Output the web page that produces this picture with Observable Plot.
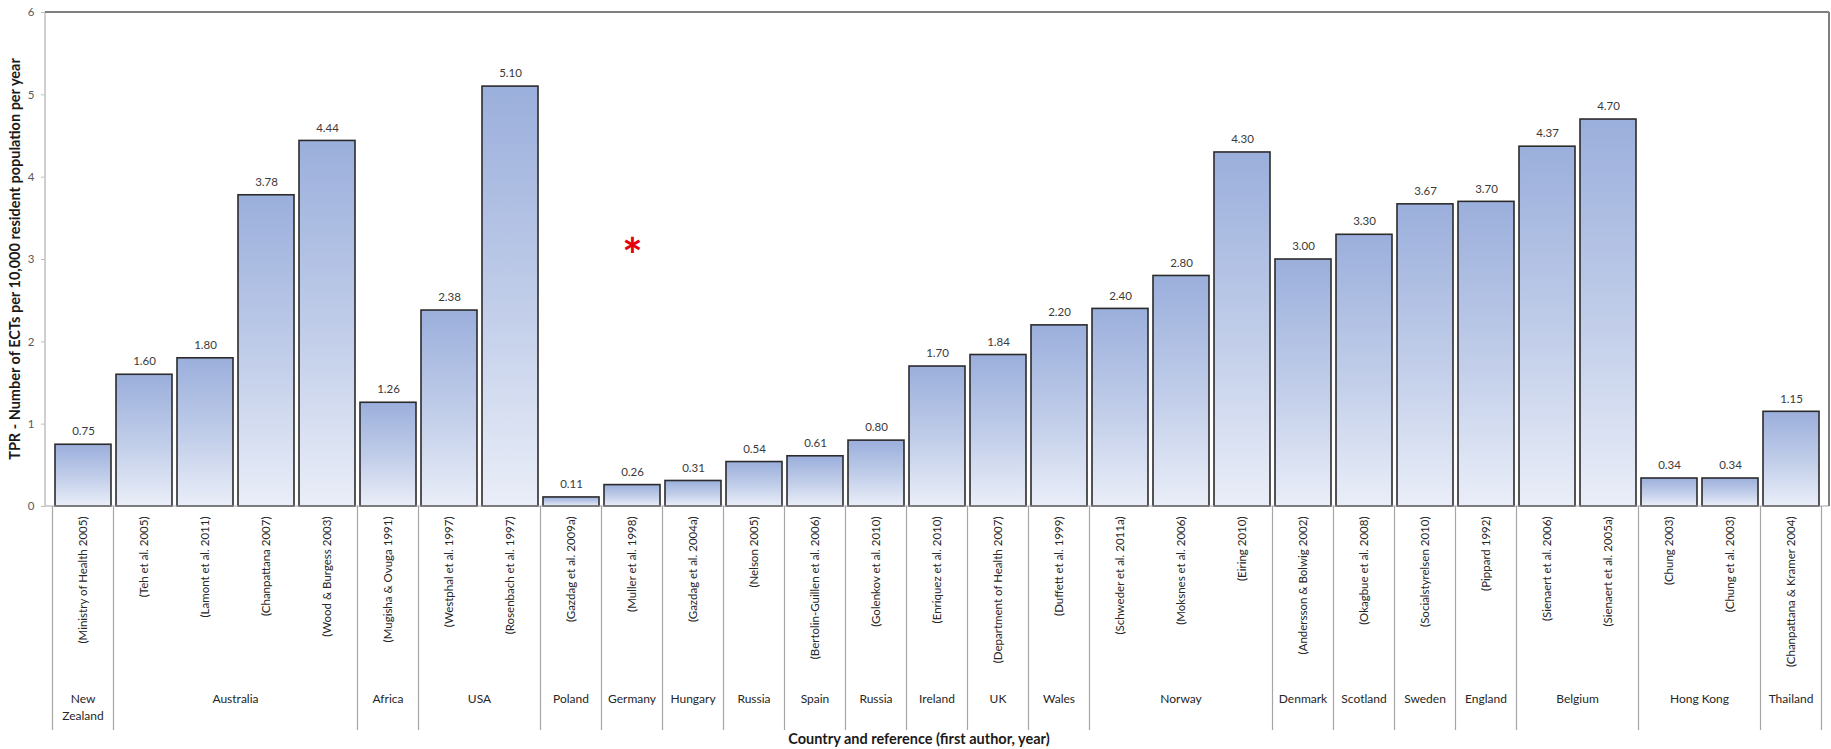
<!DOCTYPE html>
<html><head><meta charset="utf-8">
<script src="https://cdn.jsdelivr.net/npm/d3@7"></script>
<script src="https://cdn.jsdelivr.net/npm/@observablehq/plot@0.6"></script>
<style>
html,body{margin:0;padding:0;background:#fff;}
#chart svg{display:block;}
</style></head><body><div id="chart"></div>
<script>
const refs = ["(Ministry of Health 2005)","(Teh et al. 2005)","(Lamont et al. 2011)","(Chanpattana 2007)","(Wood & Burgess 2003)",
  "(Mugisha & Ovuga 1991)","(Westphal et al. 1997)","(Rosenbach et al. 1997)","(Gazdag et al. 2009a)","(Muller et al. 1998)",
  "(Gazdag et al. 2004a)","(Nelson 2005)","(Bertolin-Guillen et al. 2006)","(Golenkov et al. 2010)","(Enriquez et al. 2010)",
  "(Department of Health 2007)","(Duffett et al. 1999)","(Schweder et al. 2011a)","(Moksnes et al. 2006)","(Eiring 2010)",
  "(Andersson & Bolwig 2002)","(Okagbue et al. 2008)","(Socialstyrelsen 2010)","(Pippard 1992)","(Sienaert et al. 2006)",
  "(Sienaert et al. 2005a)","(Chung 2003)","(Chung et al. 2003)","(Chanpattana & Kramer 2004)"];
const countries = ["New Zealand","Australia","Australia","Australia","Australia","Africa","USA","USA","Poland","Germany",
  "Hungary","Russia","Spain","Russia","Ireland","UK","Wales","Norway","Norway","Norway","Denmark","Scotland","Sweden",
  "England","Belgium","Belgium","Hong Kong","Hong Kong","Thailand"];
const values = [0.75,1.60,1.80,3.78,4.44,1.26,2.38,5.10,0.11,0.26,0.31,0.54,0.61,0.80,1.70,1.84,2.20,2.40,2.80,4.30,
  3.00,3.30,3.67,3.70,4.37,4.70,0.34,0.34,1.15];
const yTicks = [0,1,2,3,4,5,6];
const yTitle = "TPR - Number of ECTs per 10,000 resident population per year";
const xTitle = "Country and reference (first author, year)";
const notes = [{ref: "(Muller et al. 1998)", value: 3.15, text: "*"}];

const data = refs.map((ref, i) => ({ref, country: countries[i], value: values[i]}));
const groups = [];
data.forEach(d => {
  const last = groups[groups.length - 1];
  if (last && last.country === d.country) { last.end = d.ref; last.n++; }
  else groups.push({country: d.country, start: d.ref, end: d.ref, n: 1});
});

const W = 1831, H = 749, mL = 45, mR = 2, mT = 12, mB = 243;
const PAD = 0.08;
const FONT = "Lato, 'Open Sans', sans-serif";
const SVGNS = "http://www.w3.org/2000/svg";

function el(name, attrs, text) {
  const e = document.createElementNS(SVGNS, name);
  for (const k in attrs) e.setAttribute(k, attrs[k]);
  if (text != null) e.textContent = text;
  return e;
}

function gradientDefs() {
  const g = el("g", {});
  const defs = el("defs", {});
  const lg = el("linearGradient", {id: "barGrad", x1: 0, y1: 0, x2: 0, y2: 1});
  lg.appendChild(el("stop", {offset: "0%", "stop-color": "#9bafdc"}));
  lg.appendChild(el("stop", {offset: "55%", "stop-color": "#c3cfea"}));
  lg.appendChild(el("stop", {offset: "100%", "stop-color": "#eaeef8"}));
  defs.appendChild(lg);
  g.appendChild(defs);
  return g;
}

function frameAndGroups(index, scales, vals, dim) {
  const x = scales.x, y = scales.y;
  const step = x(refs[1]) - x(refs[0]);
  const bw = typeof x.bandwidth === "function" ? x.bandwidth() : step * (1 - PAD);
  const gap = (step - bw) / 2;
  const left = dim.marginLeft, right = dim.width - dim.marginRight;
  const top = dim.marginTop, zero = y(0);
  const bottom = dim.height - 19;
  const g = el("g", {});
  g.appendChild(el("line", {x1: left, x2: right, y1: zero, y2: zero, stroke: "#a6a6a6", "stroke-width": 1.2}));
  const bounds = new Set();
  groups.forEach(gr => { bounds.add(x(gr.start) - gap); bounds.add(x(gr.end) + bw + gap); });
  for (const b of bounds) g.appendChild(el("line", {x1: b, x2: b, y1: zero, y2: bottom, stroke: "#a6a6a6", "stroke-width": 1.2}));
  g.appendChild(el("line", {x1: left, x2: left, y1: top, y2: zero, stroke: "#bfbfbf", "stroke-width": 1.5}));
  g.appendChild(el("line", {x1: left, x2: right, y1: top, y2: top, stroke: "#7f7f7f", "stroke-width": 2}));
  g.appendChild(el("line", {x1: right, x2: right, y1: top, y2: zero, stroke: "#7f7f7f", "stroke-width": 2}));
  groups.forEach(gr => {
    const cx = (x(gr.start) + x(gr.end) + bw) / 2;
    const t = el("text", {x: cx, y: zero + 197, "text-anchor": "middle", "font-size": 12, fill: "#262626", "font-family": FONT});
    const parts = gr.n === 1 && gr.country.includes(" ") && gr.country.length > 9 ? gr.country.split(" ") : [gr.country];
    parts.forEach((p, i) => t.appendChild(el("tspan", {x: cx, dy: i === 0 ? "0" : "1.45em"}, p)));
    g.appendChild(t);
  });
  g.appendChild(el("text", {transform: `translate(16,${(top + zero) / 2}) rotate(-90)`, "text-anchor": "middle",
    "dominant-baseline": "middle", "font-size": 14.5, "font-weight": "bold", fill: "#1a1a1a", "font-family": FONT}, yTitle));
  g.appendChild(el("text", {x: (left + right) / 2 - 18, y: dim.height - 9, "text-anchor": "middle", "dominant-baseline": "middle",
    "font-size": 14.5, "font-weight": "bold", fill: "#1a1a1a", "font-family": FONT}, xTitle));
  return g;
}

const chart = Plot.plot({
  width: W, height: H,
  marginLeft: mL, marginRight: mR, marginTop: mT, marginBottom: mB,
  style: {fontFamily: FONT, background: "#fff", overflow: "visible"},
  x: {domain: refs, type: "band", paddingInner: PAD, paddingOuter: PAD / 2, axis: null},
  y: {domain: [0, 6], axis: null},
  marks: [
    gradientDefs,
    Plot.barY(data, {x: "ref", y: "value", fill: "url(#barGrad)", stroke: "#2b2b2b", strokeWidth: 1.6}),
    frameAndGroups,
    Plot.axisY({ticks: yTicks, tickFormat: "d", tickSize: 4, tickPadding: 7, fontSize: 11.5, color: "#595959", stroke: "#bfbfbf", label: null}),
    Plot.axisX({tickRotate: -90, tickSize: 0, tickPadding: 10, fontSize: 11.5, color: "#262626", label: null}),
    Plot.text(data, {x: "ref", y: "value", text: d => d.value.toFixed(2), dy: -13, fontSize: 11.5, fill: "#3a3a3a"}),
    Plot.text(notes, {x: "ref", y: "value", text: "text", dy: 10, fontSize: 48, fontWeight: "bold", fill: "#e3000f"})
  ]
});
document.getElementById("chart").appendChild(chart);
</script></body></html>
